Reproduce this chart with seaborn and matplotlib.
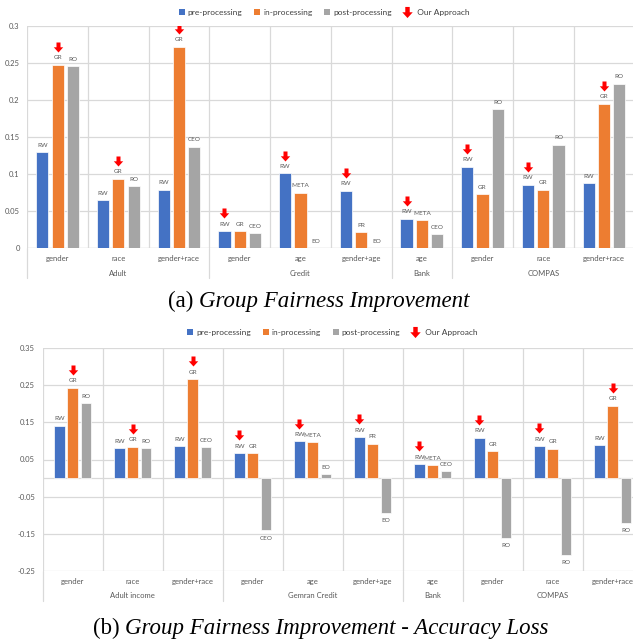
import numpy as np
import pandas as pd
import matplotlib
matplotlib.use('Agg')
import matplotlib.pyplot as plt
import seaborn as sns
from matplotlib.path import Path
from matplotlib.lines import Line2D
from matplotlib.transforms import offset_copy
from matplotlib.offsetbox import TextArea, HPacker, AnchoredOffsetbox

sns.set_theme(style='white')
plt.rcParams['font.family'] = ['Lato', 'DejaVu Sans']

# ---------------- data ----------------
methods = ['pre-processing', 'in-processing', 'post-processing']
colors = ['#4472C4', '#ED7D31', '#A5A5A5']

attrs = ['gender', 'race', 'gender+race', 'gender', 'age', 'gender+age',
         'age', 'gender', 'race', 'gender+race']
group_sizes = [3, 3, 1, 3]

pre_names = ['RW'] * 10
in_names = ['GR', 'GR', 'GR', 'GR', 'META', 'PR', 'META', 'GR', 'GR', 'GR']
post_names = ['RO', 'RO', 'CEO', 'CEO', 'EO', 'EO', 'CEO', 'RO', 'RO', 'RO']
# which method is "Our Approach" for each setting (0=pre, 1=in)
ours = [1, 1, 1, 0, 0, 0, 0, 0, 0, 1]

# (a) Group fairness improvement
groups_a = ['Adult', 'Credit', 'Bank', 'COMPAS']
pre_a = [0.130, 0.065, 0.079, 0.023, 0.101, 0.078, 0.040, 0.110, 0.086, 0.088]
in_a = [0.248, 0.094, 0.272, 0.023, 0.075, 0.022, 0.038, 0.073, 0.079, 0.195]
post_a = [0.246, 0.084, 0.137, 0.020, 0.0, 0.0, 0.019, 0.188, 0.140, 0.222]
ticks_a = [0, 0.05, 0.1, 0.15, 0.2, 0.25, 0.3]
ticklabels_a = ['0', '0.05', '0.1', '0.15', '0.2', '0.25', '0.3']

# (b) Group fairness improvement - accuracy loss
groups_b = ['Adult income', 'Gemran Credit', 'Bank', 'COMPAS']
pre_b = [0.141, 0.081, 0.086, 0.067, 0.099, 0.110, 0.038, 0.109, 0.086, 0.088]
in_b = [0.243, 0.084, 0.266, 0.067, 0.097, 0.093, 0.035, 0.073, 0.079, 0.195]
post_b = [0.201, 0.081, 0.083, -0.141, 0.011, -0.093, 0.018, -0.160, -0.206, -0.121]
ticks_b = [-0.25, -0.15, -0.05, 0.05, 0.15, 0.25, 0.35]
ticklabels_b = ['-0.25', '-0.15', '-0.05', '0.05', '0.15', '0.25', '0.35']

GRID = '#D9D9D9'
TXT = '#595959'

# down arrow marker
arrow = Path([(-0.2, 0.5), (0.2, 0.5), (0.2, 0.02), (0.47, 0.02), (0.0, -0.5),
              (-0.47, 0.02), (-0.2, 0.02), (-0.2, 0.5)],
             [Path.MOVETO] + [Path.LINETO] * 6 + [Path.CLOSEPOLY])

fig = plt.figure(figsize=(6.33, 6.41), dpi=100)


def draw_panel(ax, pre, inn, post, groups, ticks, ticklabels, ylim, width,
               ax_h_px, legend_anchor):
    keys = [f'{i}|{a}' for i, a in enumerate(attrs)]
    df = pd.DataFrame({'key': keys * 3,
                       'value': pre + inn + post,
                       'method': np.repeat(methods, 10)})
    sns.barplot(data=df, x='key', y='value', hue='method', order=keys,
                hue_order=methods, palette=colors, width=width, gap=0.2,
                errorbar=None, legend=False, ax=ax,
                edgecolor='white', linewidth=0.5, saturation=1)

    # method names over the bars + arrows for our approach
    name_lists = [pre_names, in_names, post_names]
    lab_tr_up = offset_copy(ax.transData, fig=fig, y=5, units='points')
    lab_tr_dn = offset_copy(ax.transData, fig=fig, y=-5.5, units='points')
    arr_tr = offset_copy(ax.transData, fig=fig, y=12.8, units='points')
    for m, (cont, names) in enumerate(zip(ax.containers, name_lists)):
        for i, (bar, name) in enumerate(zip(cont, names)):
            x = bar.get_x() + bar.get_width() / 2
            v = bar.get_y() + bar.get_height()
            tr = lab_tr_up if v >= 0 else lab_tr_dn
            ax.text(x, v, name, transform=tr, ha='center', va='center',
                    fontsize=4.6, color=TXT)
            if ours[i] == m:
                ax.scatter([x], [v], marker=arrow, s=52, color='#FF0000',
                           linewidths=0, transform=arr_tr, zorder=5)

    # axes styling
    for s in ax.spines.values():
        s.set_visible(False)
    ax.set_axisbelow(True)
    ax.set_xlim(-0.5, 9.5)
    ax.set_ylim(*ylim)
    ax.set_yticks(ticks)
    ax.set_yticklabels(ticklabels)
    ax.set_xticks(np.arange(-0.5, 10, 1))
    ax.set_xticklabels([])
    ax.grid(True, color=GRID, lw=0.9)
    ax.axhline(0, color=GRID, lw=0.9, zorder=0.6)
    ax.tick_params(length=0, labelsize=5.5, labelcolor=TXT, pad=5.5)
    ax.set_xlabel('')
    ax.set_ylabel('')

    # category / group labels under the axis
    xt = ax.get_xaxis_transform()
    for i, lab in enumerate(attrs):
        ax.annotate(lab, xy=(i, 0), xycoords=xt, xytext=(0, -7.6),
                    textcoords='offset points', ha='center', va='center',
                    fontsize=5.5, color=TXT)
    start = 0
    bounds = [-0.5]
    for g, n in zip(groups, group_sizes):
        ax.annotate(g, xy=(start + (n - 1) / 2, 0), xycoords=xt,
                    xytext=(0, -18), textcoords='offset points',
                    ha='center', va='center', fontsize=5.5, color=TXT)
        start += n
        bounds.append(start - 0.5)
    frac = 30 / ax_h_px
    for b in bounds:
        ax.plot([b, b], [0, -frac], transform=xt, clip_on=False,
                color=GRID, lw=0.9)

    handles = [Line2D([], [], marker='s', color=c, ls='none', markersize=4.6,
                      markeredgewidth=0, label=m) for c, m in zip(colors, methods)]
    handles.append(Line2D([], [], marker=arrow, color='#FF0000', ls='none',
                          markersize=8, markeredgewidth=0, label='  Our Approach'))
    ax.legend(handles=handles, loc='center', bbox_to_anchor=legend_anchor,
              ncol=4, frameon=False, fontsize=6, handlelength=1.0,
              handletextpad=0.2, columnspacing=1.3, labelcolor='#404040')


def caption(tag, title, xc, yc):
    box = HPacker(children=[
        TextArea(tag, textprops=dict(family='Liberation Serif', size=16.5, color='black')),
        TextArea(title, textprops=dict(family='Liberation Serif', style='italic',
                                       size=16.5, color='black'))],
        pad=0, sep=4, align='baseline')
    anc = AnchoredOffsetbox(loc='center', child=box, frameon=False, pad=0,
                            borderpad=0, bbox_to_anchor=(xc, yc),
                            bbox_transform=fig.transFigure)
    fig.add_artist(anc)


# ---------------- panel (a) ----------------
ax1 = fig.add_axes([27.3 / 633, (641 - 248.3) / 641, 607 / 633, 222.3 / 641])
draw_panel(ax1, pre_a, in_a, post_a, groups_a, ticks_a, ticklabels_a,
           (0, 0.3), 0.756, 222.3, (0.488, 1.06))
caption('(a)', 'Group Fairness Improvement', 319 / 633, 1 - 301 / 641)

# ---------------- panel (b) ----------------
ax2 = fig.add_axes([42.7 / 633, (641 - 571) / 641, 600 / 633, 223 / 641])
draw_panel(ax2, pre_b, in_b, post_b, groups_b, ticks_b, ticklabels_b,
           (-0.25, 0.35), 0.667, 223, (0.482, 1.069))
caption('(b)', 'Group Fairness Improvement - Accuracy Loss', 321 / 633, 1 - 628 / 641)

fig.savefig('out.png', dpi=100)
